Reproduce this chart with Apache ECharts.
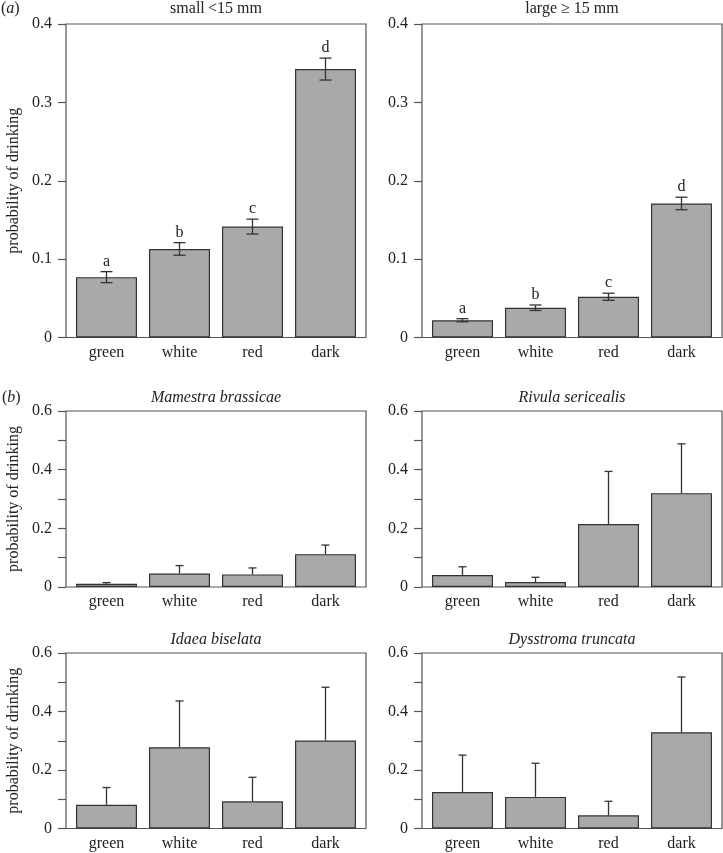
<!DOCTYPE html>
<html>
<head>
<meta charset="utf-8">
<script src="https://cdn.jsdelivr.net/npm/echarts@6/dist/echarts.min.js"></script>
<style>
html, body { margin: 0; padding: 0; background: #fff; }
#main { width: 723px; height: 853px; }
</style>
</head>
<body>
<div id="main"></div>
<script>
let categories = ['green', 'white', 'red', 'dark'];
let letters = ['a', 'b', 'c', 'd'];

// (a) mean +/- error
let smallMean = [0.077, 0.113, 0.1415, 0.3425];
let smallErr = [0.007, 0.008, 0.0095, 0.014];
let largeMean = [0.022, 0.038, 0.052, 0.171];
let largeErr = [0.002, 0.0035, 0.0045, 0.008];

// (b) mean and upper bound of the error bar
let mamestraMean = [0.011, 0.046, 0.043, 0.112];
let mamestraUpper = [0.015, 0.073, 0.065, 0.143];
let rivulaMean = [0.041, 0.017, 0.215, 0.320];
let rivulaUpper = [0.069, 0.033, 0.394, 0.488];
let idaeaMean = [0.081, 0.278, 0.093, 0.301];
let idaeaUpper = [0.140, 0.436, 0.175, 0.483];
let dysstromaMean = [0.125, 0.108, 0.045, 0.329];
let dysstromaUpper = [0.251, 0.223, 0.093, 0.518];

let serif = '"Liberation Serif", "DejaVu Serif", serif';
let ink = '#222';
let barColor = '#a9a9a9';
let lineColor = '#333';

let grid = [], xAxis = [], yAxis = [], series = [], graphic = [];

function errorRenderer(capHalf, bothCaps, labels) {
    return function (params, api) {
        let i = api.value(0);
        let lo = api.coord([i, api.value(1)]);
        let hi = api.coord([i, api.value(2)]);
        let style = { stroke: lineColor, lineWidth: 1.3 };
        let children = [
            { type: 'line', shape: { x1: hi[0], y1: lo[1], x2: hi[0], y2: hi[1] }, style: style },
            { type: 'line', shape: { x1: hi[0] - capHalf, y1: hi[1], x2: hi[0] + capHalf, y2: hi[1] }, style: style }
        ];
        if (bothCaps) {
            children.push({ type: 'line', shape: { x1: lo[0] - capHalf, y1: lo[1], x2: lo[0] + capHalf, y2: lo[1] }, style: style });
        }
        if (labels) {
            children.push({
                type: 'text', x: hi[0], y: hi[1] - 10,
                style: { text: labels[params.dataIndex], fill: ink, font: '16px ' + serif, align: 'center', verticalAlign: 'middle' }
            });
        }
        return { type: 'group', children: children };
    };
}

function addPanel(p) {
    let gi = grid.length;
    // frame grid (box + y axis)
    grid.push({ left: p.left, top: p.top, width: 300, height: p.height, show: true,
        borderColor: '#555', borderWidth: 1.2, backgroundColor: 'transparent' });
    // bar grid
    grid.push({ left: p.left + 4, top: p.top, width: 292, height: p.height });

    let xi = xAxis.length, yi = yAxis.length;
    xAxis.push({ gridIndex: gi, type: 'category', data: categories, show: false });
    xAxis.push({
        gridIndex: gi + 1, type: 'category', data: categories,
        axisLine: { show: false }, axisTick: { show: false },
        axisLabel: { color: ink, fontFamily: serif, fontSize: 16, margin: 7 }
    });
    yAxis.push({
        gridIndex: gi, type: 'value', min: 0, max: p.max, interval: 0.1,
        axisLine: { show: false },
        axisTick: { show: true, length: 8, lineStyle: { color: '#555', width: 1.2 } },
        splitLine: { show: false },
        axisLabel: {
            color: ink, fontFamily: serif, fontSize: 16, margin: 14,
            formatter: function (v) {
                let k = Math.round(v * 10);
                if (p.every2 && k % 2 !== 0) return '';
                return k === 0 ? '0' : (k / 10).toFixed(1);
            }
        },
        name: p.yName || '', nameLocation: 'middle', nameGap: 44,
        nameTextStyle: { color: ink, fontFamily: serif, fontSize: 16 }
    });
    yAxis.push({ gridIndex: gi + 1, type: 'value', min: 0, max: p.max, show: false });

    series.push({
        type: 'bar', xAxisIndex: xi + 1, yAxisIndex: yi + 1, data: p.mean,
        barCategoryGap: '16.4%', silent: true,
        itemStyle: { color: barColor, borderColor: lineColor, borderWidth: 1.2 }
    });
    let errData = p.mean.map(function (m, i) {
        return p.err ? [i, m - p.err[i], m + p.err[i]] : [i, m, p.upper[i]];
    });
    series.push({
        type: 'custom', xAxisIndex: xi + 1, yAxisIndex: yi + 1, z: 3, silent: true,
        data: errData,
        renderItem: errorRenderer(p.err ? 6 : 4, !!p.err, p.letters)
    });

    graphic.push({
        type: 'text', x: p.left + 150, y: p.titleY,
        style: { text: p.title, fill: ink, font: (p.italic ? 'italic ' : '') + '16px ' + serif,
            align: 'center', verticalAlign: 'middle' }
    });
}

addPanel({ left: 66, top: 24, height: 313.5, max: 0.4, mean: smallMean, err: smallErr, letters: letters,
    title: 'small\u2009<15 mm', titleY: 9, yName: 'probability of drinking' });
addPanel({ left: 422, top: 24, height: 313.5, max: 0.4, mean: largeMean, err: largeErr, letters: letters,
    title: 'large ≥ 15 mm', titleY: 9 });
addPanel({ left: 66, top: 411, height: 176, max: 0.6, every2: true, mean: mamestraMean, upper: mamestraUpper,
    title: 'Mamestra brassicae', italic: true, titleY: 398, yName: 'probability of drinking' });
addPanel({ left: 422, top: 411, height: 176, max: 0.6, every2: true, mean: rivulaMean, upper: rivulaUpper,
    title: 'Rivula sericealis', italic: true, titleY: 398 });
addPanel({ left: 66, top: 653, height: 175.5, max: 0.6, every2: true, mean: idaeaMean, upper: idaeaUpper,
    title: 'Idaea biselata', italic: true, titleY: 640, yName: 'probability of drinking' });
addPanel({ left: 422, top: 653, height: 175.5, max: 0.6, every2: true, mean: dysstromaMean, upper: dysstromaUpper,
    title: 'Dysstroma truncata', italic: true, titleY: 640 });

['a', 'b'].forEach(function (t, k) {
    graphic.push({
        type: 'text', x: k ? 2 : 1, y: k ? 398 : 9,
        style: {
            text: '{n|(}{i|' + t + '}{n|)}', verticalAlign: 'middle',
            rich: { n: { font: '16px ' + serif, fill: ink }, i: { font: 'italic 16px ' + serif, fill: ink } }
        }
    });
});

let chart = echarts.init(document.getElementById('main'));
chart.setOption({
    animation: false,
    backgroundColor: '#fff',
    grid: grid,
    xAxis: xAxis,
    yAxis: yAxis,
    series: series,
    graphic: graphic
});
</script>
</body>
</html>
